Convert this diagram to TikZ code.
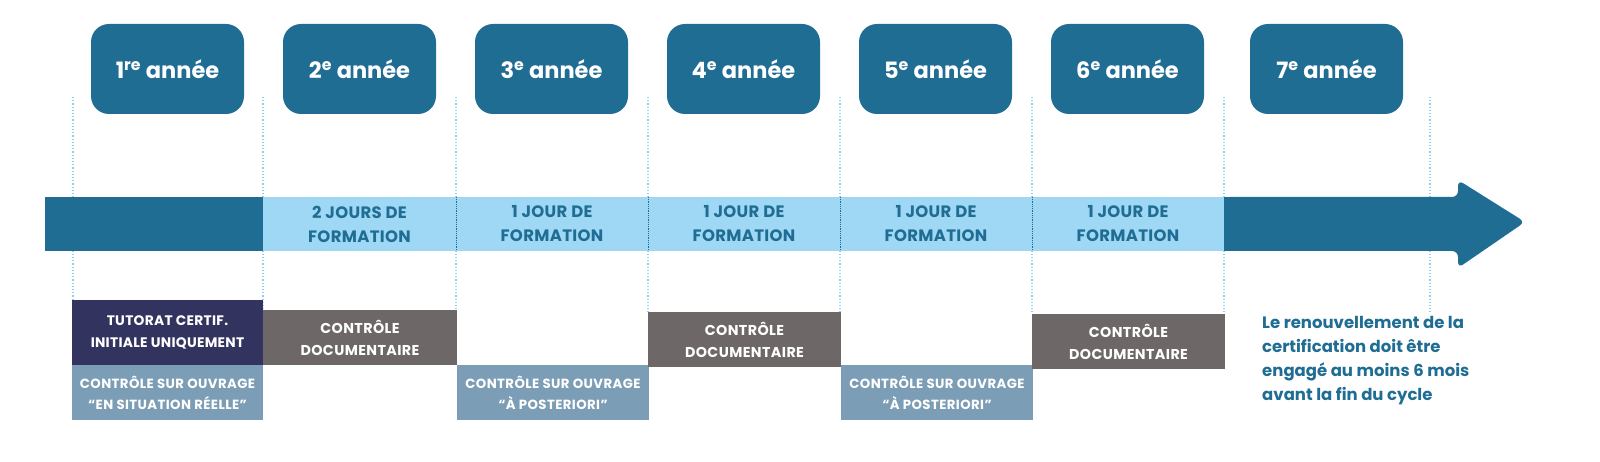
\documentclass[tikz,border=0pt]{standalone}
\usepackage{fontspec}
\setmainfont{Poppins}
\definecolor{dblue}{HTML}{206D94}
\definecolor{lblue}{HTML}{9ED8F5}
\definecolor{navy}{HTML}{33335F}
\definecolor{greyb}{HTML}{6E6767}
\definecolor{steel}{HTML}{7B9DB5}
\definecolor{dotc}{HTML}{8FD0F0}
\begin{document}
\begin{tikzpicture}[x=1pt,y=-1pt,
 year/.style={fill=dblue,rounded corners=18pt,minimum width=153pt,minimum height=90pt,text=white,font=\bfseries\fontsize{22.5}{24}\selectfont,inner sep=0pt},
 bartxt/.style={text=dblue,font=\bfseries\fontsize{16.5}{24}\selectfont\addfontfeature{LetterSpace=2},align=center},
 boxtxt/.style={text=white,font=\bfseries\fontsize{14.3}{22}\selectfont\addfontfeature{LetterSpace=2.8},align=center,anchor=center},
 smalltxt/.style={text=white,font=\bfseries\fontsize{13.3}{21}\selectfont\addfontfeature{LetterSpace=3},align=center,anchor=center},
 vdot/.style={dotc,dotted,line width=1.2pt}]
\useasboundingbox (0,0) rectangle (1600,462);
% dotted verticals
\foreach \x in {73,263,456,648,840,1032,1224,1430}{
 \coordinate (t\x) at (\x,97); \coordinate (b\x) at (\x,312);
 \draw[vdot] (t\x) -- (b\x);}
% years
\foreach \i/\x/\s in {1/167.5/re,2/359.5/e,3/551.5/e,4/743.5/e,5/935.5/e,6/1127.5/e,7/1326.5/e}{
 \node[year] (y\i) at (\x,69) {\i\textsuperscript{\s}\ année};}
% bar
\fill[dblue] (45,197) rectangle (263,251);
\fill[lblue] (263,197) rectangle (1224,251);
\fill[dblue,rounded corners=6pt] (1224,197) -- (1458,197) -- (1458,180) -- (1525,222) -- (1458,268) -- (1458,251) -- (1224,251) -- cycle;
\fill[dblue] (1224,197) rectangle (1470,251);
\foreach \x in {456,648,840,1032}{\draw[dblue,densely dotted,line width=0.8pt] (\x,197) -- (\x,251);}
\node[bartxt] (f2) at (359.5,224) {2 JOURS DE\\FORMATION};
\node[bartxt] (f3) at (552,224) {1 JOUR DE\\FORMATION};
\node[bartxt] (f4) at (744,224) {1 JOUR DE\\FORMATION};
\node[bartxt] (f5) at (936,224) {1 JOUR DE\\FORMATION};
\node[bartxt] (f6) at (1128,224) {1 JOUR DE\\FORMATION};
% bottom boxes
\fill[navy] (72,300) rectangle (263,365);
\node[boxtxt,font=\bfseries\fontsize{13.8}{22}\selectfont\addfontfeature{LetterSpace=2}] (tut) at (167.5,332.5) {TUTORAT CERTIF.\\INITIALE UNIQUEMENT};
\fill[steel] (72,365) rectangle (263,420);
\node[smalltxt] (o1) at (167.5,392.5) {CONTRÔLE SUR OUVRAGE\\“EN SITUATION RÉELLE”};
\fill[greyb] (263,310) rectangle (457,365);
\node[boxtxt] (d2) at (360,337.5) {CONTRÔLE\\DOCUMENTAIRE};
\fill[steel] (457,365) rectangle (649,420);
\node[smalltxt] (o3) at (553,392.5) {CONTRÔLE SUR OUVRAGE\\“À POSTERIORI”};
\fill[greyb] (648,312) rectangle (841,367);
\node[boxtxt] (d4) at (744.5,339.5) {CONTRÔLE\\DOCUMENTAIRE};
\fill[steel] (841,365) rectangle (1033,420);
\node[smalltxt] (o5) at (937,392.5) {CONTRÔLE SUR OUVRAGE\\“À POSTERIORI”};
\fill[greyb] (1032,314) rectangle (1225,369);
\node[boxtxt] (d6) at (1128.5,341.5) {CONTRÔLE\\DOCUMENTAIRE};
\node[text=dblue,font=\bfseries\fontsize{16.5}{24}\selectfont,align=left,anchor=north west,inner sep=0pt] (note) at (1262,316) {Le renouvellement de la\\certification doit être\\engagé au moins 6 mois\\avant la fin du cycle};
\end{tikzpicture}
\end{document}
